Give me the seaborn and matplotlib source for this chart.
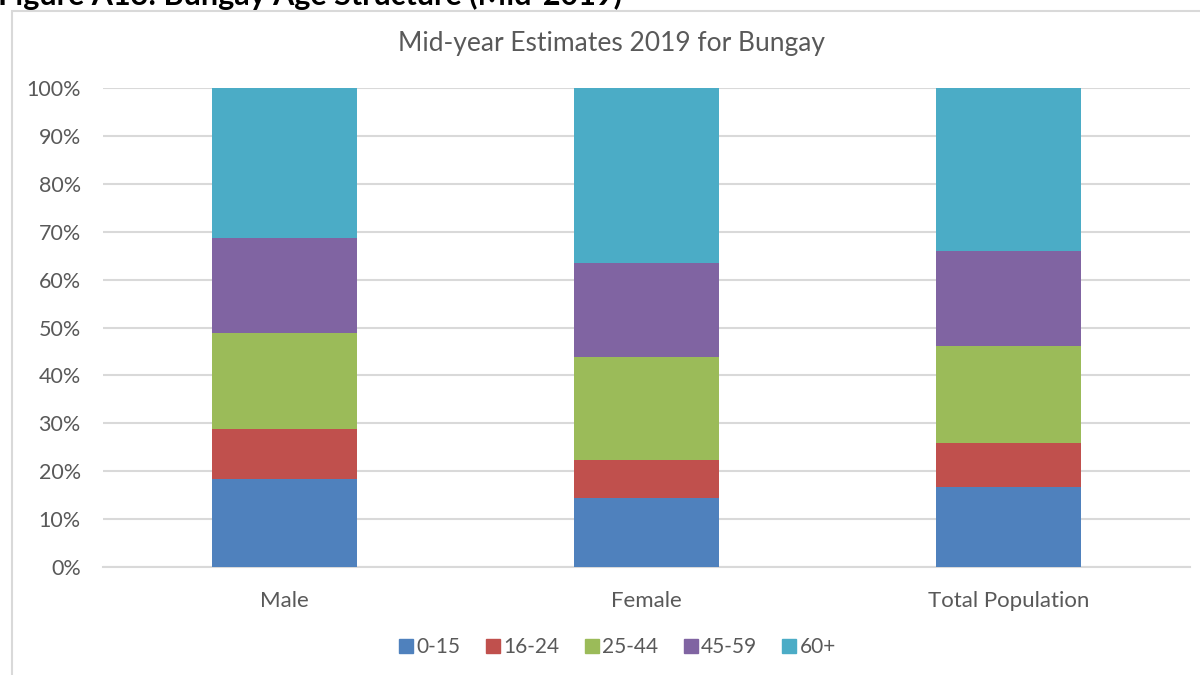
import numpy as np
import pandas as pd
import matplotlib
matplotlib.use("Agg")
import matplotlib.pyplot as plt
import matplotlib.patches as mpatches
from matplotlib.lines import Line2D
from matplotlib.ticker import PercentFormatter
import seaborn as sns

# data (shares of each group, %)
groups = ["Male", "Female", "Total Population"]
age_bands = ["0-15", "16-24", "25-44", "45-59", "60+"]
age_0_15 = [18.4, 14.5, 16.6]
age_16_24 = [10.4, 7.8, 9.2]
age_25_44 = [20.1, 21.5, 20.3]
age_45_59 = [19.8, 19.7, 19.9]
age_60_plus = [31.3, 36.5, 34.0]
colors = ["#4F81BD", "#C0504D", "#9BBB59", "#8064A2", "#4BACC6"]

series = [age_0_15, age_16_24, age_25_44, age_45_59, age_60_plus]
df = pd.DataFrame({band: vals for band, vals in zip(age_bands, series)}, index=groups)
cum = df.cumsum(axis=1) / 100.0

sns.set_theme(style="white")
plt.rcParams["font.family"] = ["Lato", "DejaVu Sans"]

fig = plt.figure(figsize=(12, 6.75), dpi=100)
ax = fig.add_axes([103 / 1200, 1 - 567 / 675, (1190 - 103) / 1200, (567 - 88) / 675])

# draw stacked bars from the top band down so lower bands sit on top
for band, col in reversed(list(zip(age_bands, colors))):
    plot_df = pd.DataFrame({"group": groups, "value": cum[band].values})
    sns.barplot(data=plot_df, x="group", y="value", color=col, saturation=1,
                width=0.4, ax=ax, zorder=3, linewidth=0)

grid_col = "#D9D9D9"
text_col = "#595959"
ax.set_ylim(0, 1)
ax.set_xlim(-0.5, 2.5)
ax.set_yticks(np.arange(0, 1.01, 0.1))
ax.yaxis.set_major_formatter(PercentFormatter(1.0, decimals=0))
ax.yaxis.grid(True, color=grid_col, linewidth=1.5, zorder=0)
ax.set_axisbelow(True)
for s in ["top", "right", "left"]:
    ax.spines[s].set_visible(False)
ax.spines["bottom"].set_color(grid_col)
ax.spines["bottom"].set_linewidth(1.5)
ax.set_xlabel("")
ax.set_ylabel("")
ax.tick_params(axis="x", length=0, labelsize=16, labelcolor=text_col, pad=17)
ax.tick_params(axis="y", length=0, labelsize=15.5, labelcolor=text_col, pad=16)

fig.text(611 / 1200, 1 - 44 / 675, "Mid-year Estimates 2019 for Bungay",
         fontsize=19, color=text_col, ha="center", va="center")

handles = [Line2D([0], [0], marker="s", linestyle="", markersize=10,
                  markerfacecolor=c, markeredgecolor=c) for c in colors]
fig.legend(handles, age_bands, loc="center", bbox_to_anchor=(616 / 1200, 1 - 647 / 675),
           ncol=5, frameon=False, fontsize=15, labelcolor=text_col,
           handletextpad=0.0, columnspacing=1.05, handlelength=1.0)

# chart border (runs off the right and bottom edges)
fig.patches.append(mpatches.Rectangle((12 / 1200, -0.1), 1.2, 1.1 - 11 / 675,
                                      transform=fig.transFigure, fill=False,
                                      edgecolor=grid_col, linewidth=1.5))

# cropped figure caption at the very top
fig.text(-0.002, 1 - 5 / 675, "Figure A13: Bungay Age Structure (Mid-2019)",
         fontsize=22, fontweight="bold", color="black", va="baseline", ha="left")

fig.savefig("out.png", dpi=100)
